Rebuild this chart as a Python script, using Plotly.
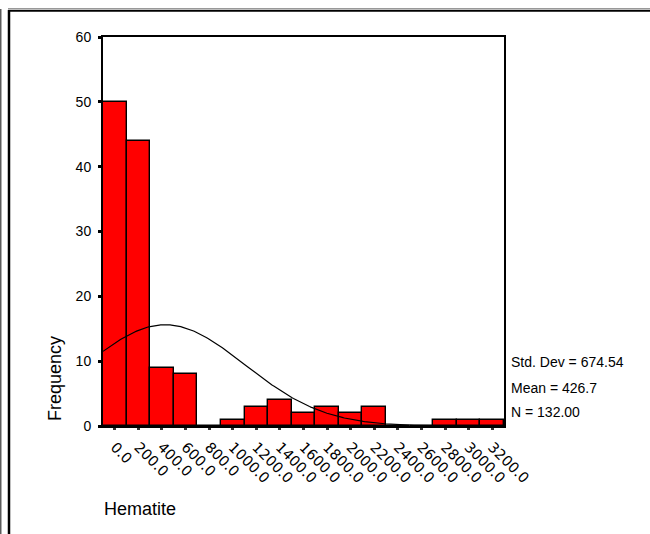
import numpy as np
import plotly.graph_objects as go

# Data
bin_centers = [0, 200, 400, 600, 800, 1000, 1200, 1400, 1600, 1800, 2000, 2200, 2400, 2600, 2800, 3000, 3200]
counts = [50, 44, 9, 8, 0, 1, 3, 4, 2, 3, 2, 3, 0, 0, 1, 1, 1]
tick_labels = ["0.0", "200.0", "400.0", "600.0", "800.0", "1000.0", "1200.0", "1400.0", "1600.0",
               "1800.0", "2000.0", "2200.0", "2400.0", "2600.0", "2800.0", "3000.0", "3200.0"]
y_ticks = [0, 10, 20, 30, 40, 50, 60]
std_dev = 674.54
mean = 426.7
n_total = 132.00
bin_width = 200

W, H = 650, 534
L, R, T, B = 103, 146, 37, 108
FONT = "Liberation Sans, Arial, sans-serif"

# Normal curve from the displayed statistics
xs = np.linspace(-100, 3300, 300)
ys = n_total * bin_width / (std_dev * np.sqrt(2 * np.pi)) * np.exp(-0.5 * ((xs - mean) / std_dev) ** 2)

fig = go.Figure()
fig.add_trace(go.Bar(
    x=bin_centers, y=counts, width=bin_width,
    marker=dict(color="#ff0000", line=dict(color="black", width=1.4)),
    hoverinfo="skip",
))
fig.add_trace(go.Scatter(x=xs, y=ys, mode="lines", line=dict(color="black", width=1.2), hoverinfo="skip"))

def px_x(p):
    return (p - L) / (W - L - R)

def px_y(p):
    return 1 - (p - T) / (H - T - B)

shapes = [
    # outer frame
    dict(type="line", xref="paper", yref="paper", x0=px_x(8), x1=px_x(660), y0=px_y(8.5), y1=px_y(8.5),
         line=dict(color="#999999", width=1)),
    dict(type="line", xref="paper", yref="paper", x0=px_x(8), x1=px_x(660), y0=px_y(10.8), y1=px_y(10.8),
         line=dict(color="black", width=2)),
    dict(type="line", xref="paper", yref="paper", x0=px_x(9), x1=px_x(9), y0=px_y(10), y1=px_y(540),
         line=dict(color="black", width=2.5)),
    dict(type="line", xref="paper", yref="paper", x0=px_x(0.8), x1=px_x(0.8), y0=px_y(9), y1=px_y(540),
         line=dict(color="#333333", width=1.2)),
]

annotations = [
    dict(text="Frequency", xref="paper", yref="paper", x=px_x(55), y=px_y(379), textangle=-90,
         showarrow=False, font=dict(family=FONT, size=18, color="black"), xanchor="center", yanchor="middle"),
    dict(text="Hematite", xref="paper", yref="paper", x=px_x(102), y=px_y(509),
         showarrow=False, font=dict(family=FONT, size=18, color="black"), xanchor="left", yanchor="middle"),
]
stats = [(f"Std. Dev = {std_dev:.2f}", 362), (f"Mean = {mean:.1f}", 388), (f"N = {n_total:.2f}", 412)]
for txt, yp in stats:
    annotations.append(dict(text=txt, xref="paper", yref="paper", x=px_x(509), y=px_y(yp), showarrow=False,
                            font=dict(family=FONT, size=14, color="black"), xanchor="left", yanchor="middle"))

fig.update_layout(
    width=W, height=H,
    margin=dict(l=L, r=R, t=T, b=B, pad=0),
    paper_bgcolor="white", plot_bgcolor="white",
    showlegend=False, bargap=0,
    font=dict(family=FONT, size=14, color="black"),
    shapes=shapes, annotations=annotations,
    xaxis=dict(range=[-100, 3300], tickmode="array", tickvals=bin_centers, ticktext=tick_labels,
               tickangle=45, ticks="outside", ticklen=2, tickwidth=3, tickcolor="#333333",
               tickfont=dict(family="DejaVu Sans, sans-serif", size=14.5, color="black"),
               ticklabelstandoff=3,
               showline=True, linecolor="black", linewidth=2, mirror=True,
               showgrid=False, zeroline=False, fixedrange=True),
    yaxis=dict(range=[0, 60], tickmode="array", tickvals=y_ticks,
               ticks="outside", ticklen=3, tickwidth=3, tickcolor="black",
               tickfont=dict(family=FONT, size=14, color="black"),
               showline=True, linecolor="black", linewidth=2, mirror=True,
               showgrid=False, zeroline=False, fixedrange=True, ticklabelstandoff=4),
)

fig.write_html("out.html")
